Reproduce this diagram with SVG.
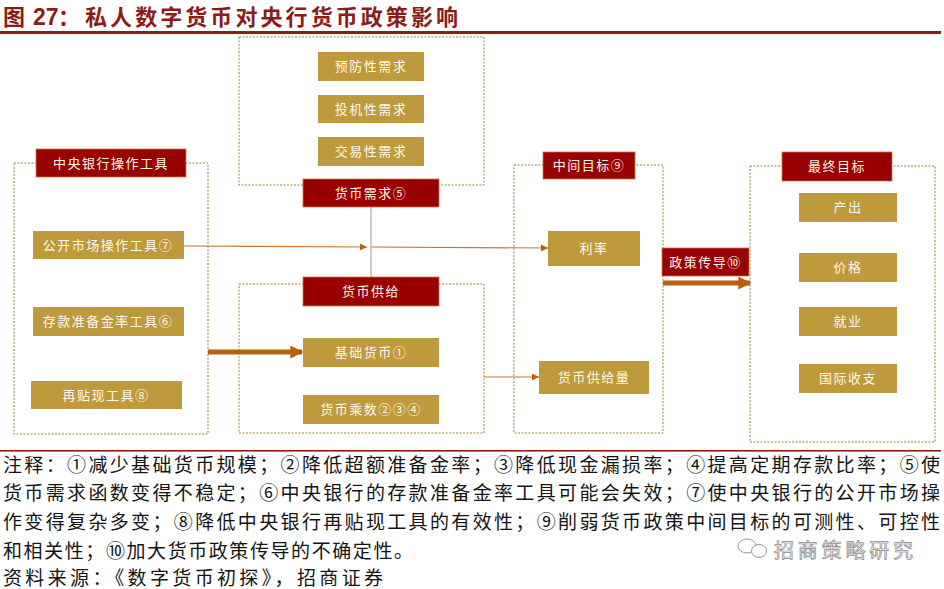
<svg xmlns="http://www.w3.org/2000/svg" width="944" height="589" viewBox="0 0 944 589">
<defs>
<style>
.cont{fill:none;stroke:#A67C3E;stroke-width:1;stroke-dasharray:2,1.5}
.hdr{fill:#990000;stroke:#C8783A;stroke-width:0.8}
.gold{fill:#BE9A3C}
.lbl{font-family:"Noto Sans CJK SC",sans-serif;font-size:13px;fill:#FFF8EC;text-anchor:middle;letter-spacing:1.5px}
.thin{stroke:#C8742E;stroke-width:1.2;fill:none}
.thick{stroke:#B8600C;stroke-width:5;fill:none}
.note{font-family:"Noto Sans CJK SC",sans-serif;font-size:19px;fill:#141414}
</style>
<marker id="ah" viewBox="0 0 10 10" refX="10" refY="5" markerWidth="7" markerHeight="7" markerUnits="userSpaceOnUse" orient="auto">
<path d="M0,0 L10,5 L0,10 z" fill="#B8600C"/>
</marker>
<marker id="ahb" viewBox="0 0 10 10" refX="9" refY="5" markerWidth="2.6" markerHeight="2.6" orient="auto">
<path d="M0,0 L10,5 L0,10 z" fill="#B8600C"/>
</marker>
</defs>
<rect width="944" height="589" fill="#ffffff"/>

<g id="title">
<text x="3" y="25" font-family="'Noto Sans CJK SC',sans-serif" font-size="22" font-weight="bold" fill="#8C1C18">图</text>
<text x="33" y="25" font-family="'Liberation Sans',sans-serif" font-size="23" font-weight="bold" fill="#8C1C18">27</text>
<text x="58" y="25" font-family="'Noto Sans CJK SC',sans-serif" font-size="22" font-weight="bold" fill="#8C1C18">：</text>
<text x="85" y="25" font-family="'Noto Sans CJK SC',sans-serif" font-size="22" font-weight="bold" fill="#8C1C18" textLength="373" lengthAdjust="spacing">私人数字货币对央行货币政策影响</text>
<rect x="0" y="31" width="941" height="3" fill="#8C1C18"/>
</g>

<g id="containers">
<rect class="cont" x="14" y="163" width="194" height="271"/>
<rect class="cont" x="239" y="37" width="245" height="148"/>
<rect class="cont" x="239" y="284" width="245" height="149"/>
<rect class="cont" x="514" y="165" width="149" height="268"/>
<rect class="cont" x="750" y="166" width="185" height="276"/>
</g>

<g id="connectors">
<line class="thin" x1="184" y1="246" x2="367" y2="247" marker-end="url(#ah)"/>
<line class="thin" x1="371" y1="247" x2="548" y2="248" marker-end="url(#ah)"/>
<line x1="371" y1="207" x2="371" y2="277" stroke="#B89070" stroke-width="1"/>
<line class="thin" x1="484" y1="377" x2="539" y2="377" marker-end="url(#ah)"/>
<line class="thick" x1="208" y1="352" x2="302" y2="352" marker-end="url(#ahb)"/>
<line class="thick" x1="663" y1="283" x2="750" y2="283" marker-end="url(#ahb)"/>
</g>

<g id="n-cbtools">
<rect class="hdr" x="36" y="149" width="150" height="28"/>
<text class="lbl" x="111" y="168">中央银行操作工具</text>
</g>
<g id="n-omo">
<rect class="gold" x="33" y="231" width="151" height="28"/>
<text class="lbl" x="108" y="250">公开市场操作工具⑦</text>
</g>
<g id="n-rrr">
<rect class="gold" x="33" y="307" width="151" height="29"/>
<text class="lbl" x="108" y="326">存款准备金率工具⑥</text>
</g>
<g id="n-disc">
<rect class="gold" x="31" y="381" width="151" height="28"/>
<text class="lbl" x="106" y="400">再贴现工具⑧</text>
</g>

<g id="n-prec">
<rect class="gold" x="318" y="52" width="106" height="29"/>
<text class="lbl" x="371" y="71">预防性需求</text>
</g>
<g id="n-spec">
<rect class="gold" x="318" y="95" width="106" height="28"/>
<text class="lbl" x="371" y="114">投机性需求</text>
</g>
<g id="n-trans">
<rect class="gold" x="318" y="137" width="106" height="29"/>
<text class="lbl" x="371" y="156">交易性需求</text>
</g>
<g id="n-demand">
<rect class="hdr" x="303" y="179" width="136" height="28"/>
<text class="lbl" x="371" y="198">货币需求⑤</text>
</g>

<g id="n-supply">
<rect class="hdr" x="303" y="277" width="136" height="29"/>
<text class="lbl" x="371" y="296">货币供给</text>
</g>
<g id="n-base">
<rect class="gold" x="303" y="338" width="136" height="29"/>
<text class="lbl" x="371" y="357">基础货币①</text>
</g>
<g id="n-mult">
<rect class="gold" x="303" y="395" width="136" height="29"/>
<text class="lbl" x="371" y="414">货币乘数②③④</text>
</g>

<g id="n-inter">
<rect class="hdr" x="543" y="152" width="92" height="27"/>
<text class="lbl" x="589" y="170">中间目标⑨</text>
</g>
<g id="n-rate">
<rect class="gold" x="548" y="231" width="92" height="35"/>
<text class="lbl" x="594" y="253">利率</text>
</g>
<g id="n-m">
<rect class="gold" x="539" y="361" width="110" height="33"/>
<text class="lbl" x="594" y="382">货币供给量</text>
</g>
<g id="n-trans2">
<rect class="hdr" x="662" y="248" width="87" height="28"/>
<text class="lbl" x="705.5" y="267">政策传导⑩</text>
</g>

<g id="n-final">
<rect class="hdr" x="782" y="152" width="110" height="29"/>
<text class="lbl" x="837" y="171">最终目标</text>
</g>
<g id="n-output">
<rect class="gold" x="799" y="193" width="98" height="29"/>
<text class="lbl" x="848" y="212">产出</text>
</g>
<g id="n-price">
<rect class="gold" x="799" y="253" width="98" height="29"/>
<text class="lbl" x="848" y="272">价格</text>
</g>
<g id="n-emp">
<rect class="gold" x="799" y="307" width="98" height="29"/>
<text class="lbl" x="848" y="326">就业</text>
</g>
<g id="n-bop">
<rect class="gold" x="799" y="364" width="98" height="29"/>
<text class="lbl" x="848" y="383">国际收支</text>
</g>

<g id="notes">
<rect x="0" y="450" width="941" height="1.6" fill="#8C1C18"/>
<text class="note" x="3" y="472" textLength="937" lengthAdjust="spacing">注释：①减少基础货币规模；②降低超额准备金率；③降低现金漏损率；④提高定期存款比率；⑤使</text>
<text class="note" x="3" y="500" textLength="937" lengthAdjust="spacing">货币需求函数变得不稳定；⑥中央银行的存款准备金率工具可能会失效；⑦使中央银行的公开市场操</text>
<text class="note" x="3" y="529" textLength="937" lengthAdjust="spacing">作变得复杂多变；⑧降低中央银行再贴现工具的有效性；⑨削弱货币政策中间目标的可测性、可控性</text>
<text class="note" x="3" y="558" textLength="410" lengthAdjust="spacing">和相关性；⑩加大货币政策传导的不确定性。</text>
<text class="note" x="3" y="585" textLength="380" lengthAdjust="spacing">资料来源：《数字货币初探》，招商证券</text>
</g>

<g id="watermark">
<ellipse cx="747" cy="546" rx="9" ry="7" fill="none" stroke="#999" stroke-width="1"/>
<ellipse cx="759" cy="551" rx="7.5" ry="6.5" fill="#fff" stroke="#999" stroke-width="1"/>
<text x="774" y="558" font-family="'Noto Sans CJK SC',sans-serif" font-size="20" fill="#f2f2f2" stroke="#8a8a8a" stroke-width="0.7" textLength="139" lengthAdjust="spacing">招商策略研究</text>
</g>
</svg>
